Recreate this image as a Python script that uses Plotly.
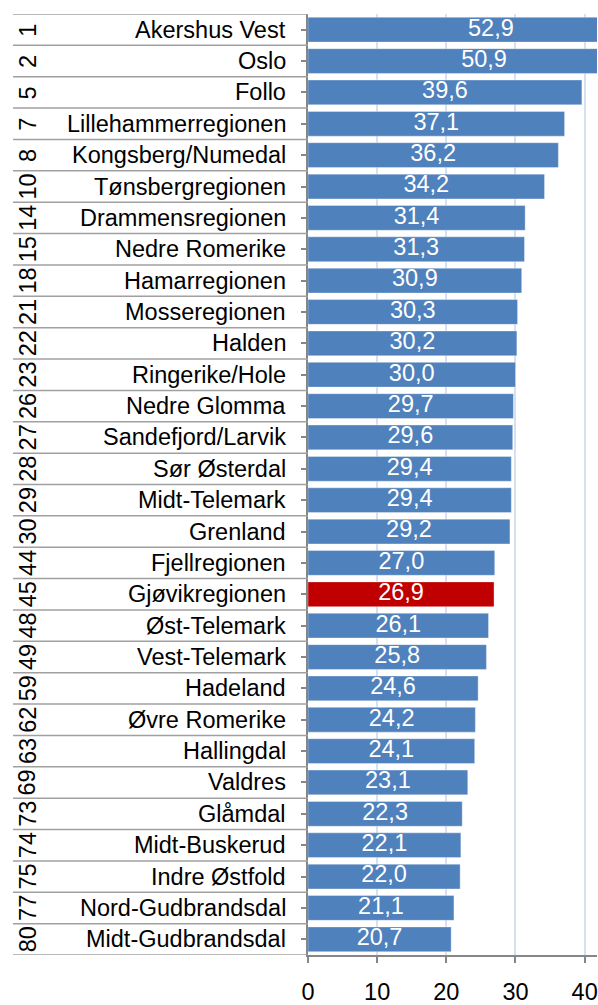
import plotly.graph_objects as go

# Rank, region and value for each row, top to bottom
ranks = [1, 2, 5, 7, 8, 10, 14, 15, 18, 21, 22, 23, 26, 27, 28, 29, 30,
         44, 45, 48, 49, 59, 62, 63, 69, 73, 74, 75, 77, 80]
regions = ["Akershus Vest", "Oslo", "Follo", "Lillehammerregionen",
           "Kongsberg/Numedal", "Tønsbergregionen", "Drammensregionen",
           "Nedre Romerike", "Hamarregionen", "Mosseregionen", "Halden",
           "Ringerike/Hole", "Nedre Glomma", "Sandefjord/Larvik",
           "Sør Østerdal", "Midt-Telemark", "Grenland", "Fjellregionen",
           "Gjøvikregionen", "Øst-Telemark", "Vest-Telemark", "Hadeland",
           "Øvre Romerike", "Hallingdal", "Valdres", "Glåmdal",
           "Midt-Buskerud", "Indre Østfold", "Nord-Gudbrandsdal",
           "Midt-Gudbrandsdal"]
values = [52.9, 50.9, 39.6, 37.1, 36.2, 34.2, 31.4, 31.3, 30.9, 30.3, 30.2,
          30.0, 29.7, 29.6, 29.4, 29.4, 29.2, 27.0, 26.9, 26.1, 25.8, 24.6,
          24.2, 24.1, 23.1, 22.3, 22.1, 22.0, 21.1, 20.7]
highlight = "Gjøvikregionen"
x_ticks = [0, 10, 20, 30, 40]

W, H = 598, 1005
ML, MR, MT, MB = 308, 0, 14, 39
plot_w = W - ML - MR
FONT = "Liberation Sans, Arial, sans-serif"
FS = 23.5
BLUE = "#4f81bd"
RED = "#c00000"

n = len(regions)
ypos = list(range(n))
colors = [RED if r == highlight else BLUE for r in regions]

fig = go.Figure()
fig.add_trace(go.Bar(
    x=values, y=ypos, orientation="h",
    marker=dict(color=colors, line=dict(color="rgba(255,255,255,0.35)", width=1)),
    width=0.79, hoverinfo="skip", showlegend=False,
))
# value labels centred in each bar
fig.add_trace(go.Scatter(
    x=[v / 2 for v in values], y=ypos, mode="text",
    text=[f"{v:.1f}".replace(".", ",") for v in values],
    textfont=dict(family=FONT, size=FS, color="white"),
    hoverinfo="skip", showlegend=False, cliponaxis=False,
))

def px_to_paper(px):
    return (px - ML) / plot_w

annotations = []
shapes = []
for i, (rk, name) in enumerate(zip(ranks, regions)):
    annotations.append(dict(
        x=px_to_paper(288), xref="paper", y=i, yref="y",
        text=name, showarrow=False, xanchor="right", yanchor="middle",
        font=dict(family=FONT, size=FS, color="black"),
    ))
    annotations.append(dict(
        x=px_to_paper(27), xref="paper", y=i, yref="y",
        text=str(rk), showarrow=False, xanchor="center", yanchor="middle",
        textangle=-90, font=dict(family=FONT, size=FS, color="black"),
    ))

# row separators across the label area
for i in range(n + 1):
    shapes.append(dict(
        type="line", xref="paper", yref="y",
        x0=px_to_paper(12), x1=0, y0=i - 0.5, y1=i - 0.5,
        line=dict(color="#a0a0a0", width=1.5), layer="above",
    ))

fig.update_layout(
    width=W, height=H,
    margin=dict(l=ML, r=MR, t=MT, b=MB, pad=0),
    paper_bgcolor="white", plot_bgcolor="white",
    bargap=0.21,
    annotations=annotations, shapes=shapes,
    xaxis=dict(
        range=[0, plot_w / 6.94], tickvals=x_ticks,
        ticks="outside", ticklen=6, tickwidth=1.5, tickcolor="#868686",
        showline=True, linecolor="#868686", linewidth=1.5,
        showgrid=True, gridcolor="#d6e0f0", gridwidth=1.5,
        zeroline=False, ticklabelstandoff=9, ticklabeloverflow="allow",
        tickfont=dict(family=FONT, size=FS, color="black"),
        fixedrange=True,
    ),
    yaxis=dict(
        range=[n - 0.5, -0.5], showticklabels=False,
        tickvals=ypos, tickson="boundaries",
        ticks="outside", ticklen=5, tickwidth=1.5, tickcolor="#868686",
        showline=True, linecolor="#868686", linewidth=1.5,
        showgrid=False, zeroline=False, fixedrange=True,
    ),
)

fig.write_html("out.html", config={"displayModeBar": False})
